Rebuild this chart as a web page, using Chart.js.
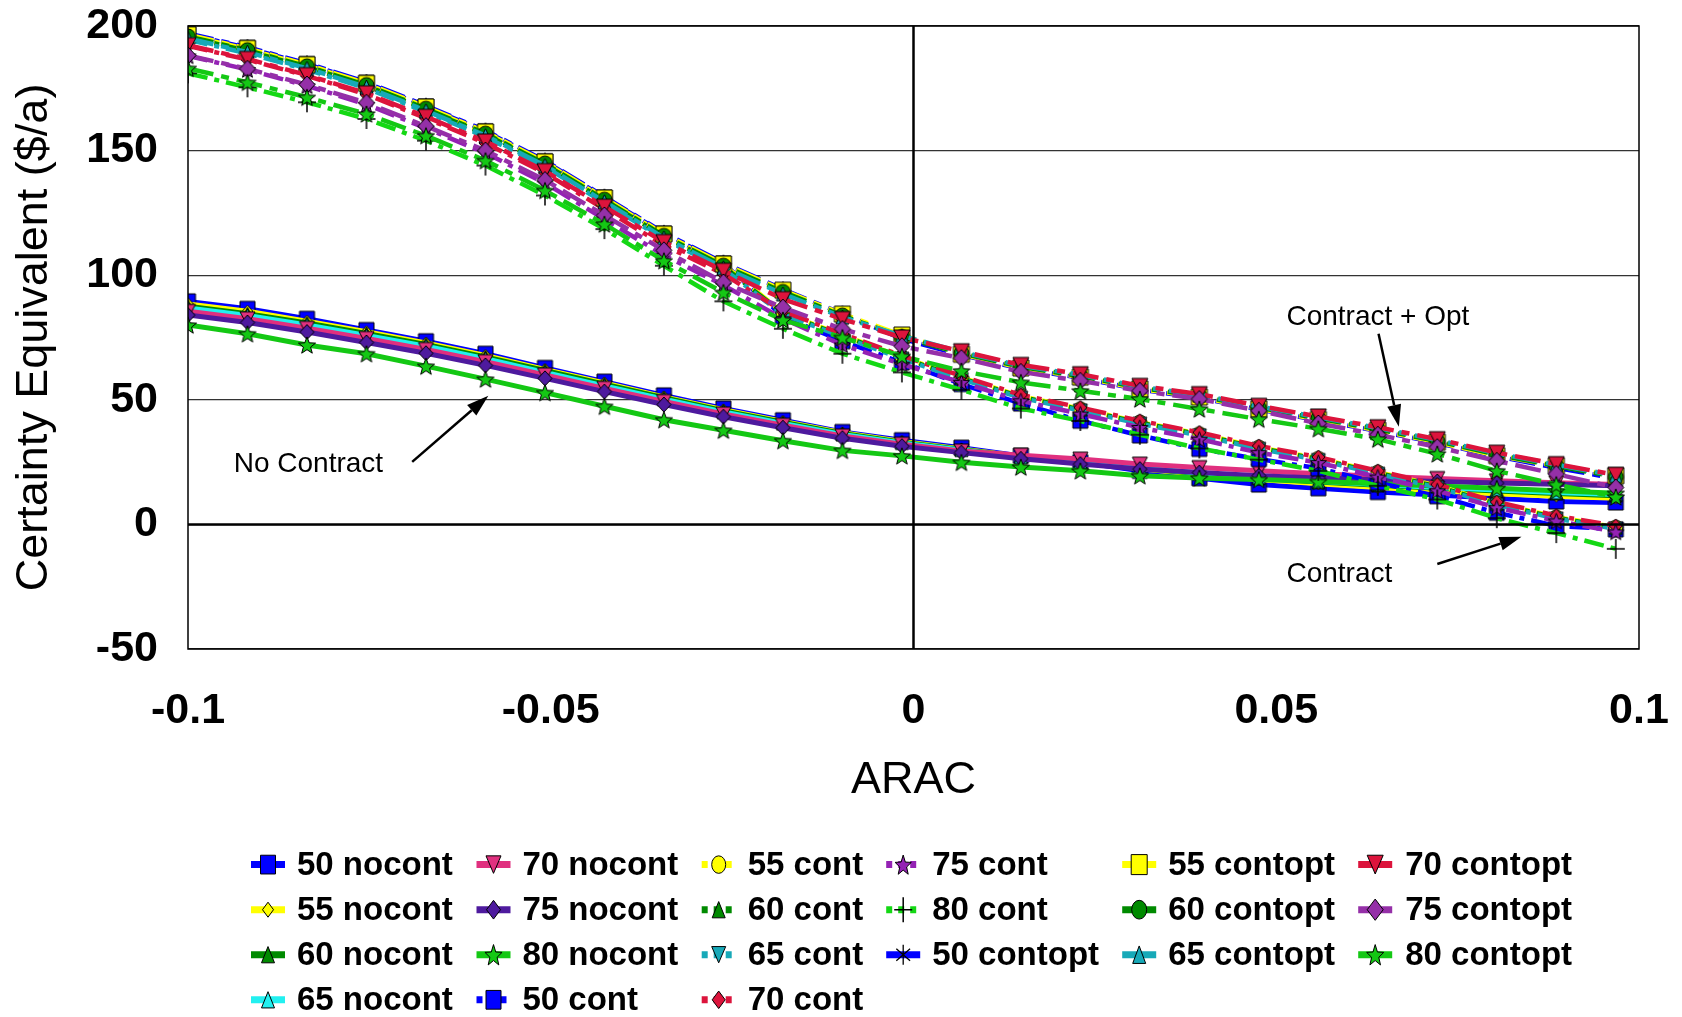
<!DOCTYPE html>
<html>
<head>
<meta charset="utf-8">
<script src="https://cdn.jsdelivr.net/npm/chart.js@4.4.1/dist/chart.umd.min.js"></script>
<style>
html,body{margin:0;padding:0;background:#ffffff;}
#wrap{width:1682px;height:1017px;position:relative;}
</style>
</head>
<body>
<div id="wrap"><canvas id="c" width="1682" height="1017"></canvas></div>
<script>
// ---------------- DATA ----------------
const arac = [-0.1, -0.0918, -0.0836, -0.0754, -0.0672, -0.059, -0.0508, -0.0426, -0.0344, -0.0262, -0.018, -0.0098, -0.0016, 0.0066, 0.0148, 0.023, 0.0312, 0.0394, 0.0476, 0.0558, 0.064, 0.0722, 0.0804, 0.0886, 0.0968];

const nocont50 = [89.5, 86.5, 82.5, 78, 73.5, 68.5, 62.8, 57.3, 51.8, 46.5, 41.8, 37.1, 33.8, 30.8, 27.5, 25, 21.5, 18.5, 16, 14.5, 13, 11.8, 10.5, 9.2, 8.8];
const nocont55 = [88.5, 85.5, 81.5, 77.3, 72.8, 67.8, 62.2, 56.8, 51.2, 46, 41.3, 36.8, 33.3, 30.3, 27.3, 25, 22.3, 20, 18, 16.3, 14.8, 13.5, 12.3, 11.3, 10.5];
const nocont60 = [87.5, 84.5, 80.8, 76.6, 72.2, 67.2, 61.8, 56.3, 50.8, 45.6, 41, 36.5, 33, 30.1, 27.2, 25, 22.5, 20.3, 18.5, 17, 15.7, 14.5, 13.4, 12.4, 11.5];
const nocont65 = [86.8, 83.8, 80, 75.8, 71.5, 66.5, 61, 55.6, 50.2, 45.1, 40.5, 36.1, 32.7, 29.9, 27, 25, 22.6, 20.6, 18.8, 17.3, 16, 14.8, 13.8, 12.8, 12];
const nocont70 = [85.5, 82.5, 78.7, 74.6, 70.2, 65.3, 60, 54.6, 49.3, 44.3, 39.8, 35.5, 32.2, 29.5, 27.8, 26.2, 24.2, 22.8, 21.5, 20.3, 19.3, 18.4, 17.5, 16.7, 16];
const nocont75 = [84, 81, 77.2, 73, 68.7, 63.8, 58.6, 53.3, 48.1, 43.2, 38.8, 34.6, 31.4, 28.8, 26.3, 24.2, 22.2, 20.8, 19.5, 18.6, 17.9, 17.2, 16.6, 16.1, 15.5];
const nocont80 = [80, 76.5, 72, 68.5, 63.5, 58.3, 52.9, 47.4, 42, 37.8, 33.6, 29.7, 27.5, 24.9, 23, 21.5, 19.5, 18.6, 18, 17.2, 16.3, 15.4, 14.5, 13.5, 12.5];

const cont50 = [196.7, 191.2, 184.7, 177.2, 167.7, 157.7, 145.7, 131.2, 116.7, 104.7, 83.5, 73.5, 65, 56.3, 48.5, 41.6, 35.7, 30.3, 26.2, 22.5, 16.8, 11.3, 4.7, -0.6, -2];
const cont55 = [196.2, 190.7, 184.2, 176.7, 167.2, 157.2, 145.2, 130.7, 116.2, 104.2, 85, 76, 67.2, 59, 51.5, 46.4, 41.1, 36.4, 31, 26.5, 21, 15.5, 8.5, 3, -1.1];
const cont60 = [195.5, 190, 183.5, 176, 166.5, 156.5, 144.5, 130, 115.5, 103.5, 84.7, 75.7, 66.9, 58.7, 51.2, 46.1, 40.8, 36.1, 30.7, 26.2, 20.7, 15.2, 8.2, 2.7, -1.4];
const cont65 = [194.5, 189, 182.5, 175, 165.5, 155.5, 143.5, 129, 114.5, 102.5, 84.3, 75.3, 66.5, 58.3, 50.8, 45.7, 40.4, 35.7, 30.3, 25.8, 20.3, 14.8, 7.8, 2.3, -1.8];
const cont70 = [192, 186.5, 180, 172.5, 163, 153, 141, 126.5, 112, 100.5, 85.5, 76.5, 67.7, 59.5, 52, 46.9, 41.6, 36.9, 31.5, 27, 21.5, 16, 9, 3.5, -0.6];
const cont75 = [188, 182.5, 176, 168.5, 159, 149, 137, 122.5, 108, 96, 82.5, 72, 64.3, 57, 49.6, 44.3, 38.9, 34.2, 28.8, 24.8, 19, 13.5, 6.7, 1.4, -3];
const cont80 = [181, 175.4, 169.4, 162.7, 154, 144, 132, 118.5, 103.8, 89.5, 78.5, 68.5, 61, 54, 46.5, 41.5, 36, 30.5, 26, 21.5, 15.5, 10, 2.5, -3.5, -9.8];

const contopt50 = [197, 191.5, 185, 177.5, 168, 158, 146, 131.5, 117, 105, 94.3, 84.6, 74.5, 68, 62.5, 58.8, 54.1, 50.8, 46.1, 41.8, 37.5, 32.7, 27.3, 22.7, 18.4];
const contopt55 = [196.5, 191, 184.5, 177, 167.5, 157.5, 145.5, 131, 116.5, 104.5, 94, 84.4, 76, 68.3, 62.8, 59.1, 54.4, 51.1, 46.4, 42.1, 37.8, 33, 27.6, 23.5, 19.5];
const contopt60 = [195.8, 190.3, 183.8, 176.3, 166.8, 156.8, 144.8, 130.3, 115.8, 103.8, 93.3, 83.8, 75.2, 68.7, 63.2, 59.5, 54.8, 51.5, 46.8, 42.5, 38.2, 33.4, 28, 23.4, 19.1];
const contopt65 = [195, 189.5, 183, 175.5, 166, 156, 144, 129.5, 115, 103, 92.5, 83.2, 75.7, 69.2, 63.7, 60, 55.3, 52, 47.3, 43, 38.7, 33.9, 28.5, 23.9, 19.6];
const contopt70 = [192.3, 186.8, 180.3, 173, 163.6, 153.7, 141.8, 127.5, 113.3, 101.8, 90.4, 82.4, 75, 69.5, 64, 60.3, 55.6, 52.3, 47.6, 43.3, 39, 34.2, 28.8, 24.2, 19.9];
const contopt75 = [188.2, 182.8, 176.5, 169.2, 159.8, 150, 138.2, 124, 110, 97.1, 87, 78.4, 71.5, 66.7, 61.2, 57.6, 53.6, 50.3, 45.6, 40.5, 36, 31, 25.5, 20.2, 14.8];
const contopt80 = [183, 177.4, 171.4, 164.7, 156, 146, 134, 120.5, 105.8, 93.1, 82, 75, 67.5, 61.6, 57, 53.6, 50.3, 46.3, 42.2, 38.4, 34.2, 28.3, 21.5, 16, 11];

const seriesLabels = ['50 nocont','55 nocont','60 nocont','65 nocont','70 nocont','75 nocont','80 nocont',
  '50 cont','55 cont','60 cont','65 cont','70 cont','75 cont','80 cont',
  '50 contopt','55 contopt','60 contopt','65 contopt','70 contopt','75 contopt','80 contopt'];
const seriesValues = [nocont50, nocont55, nocont60, nocont65, nocont70, nocont75, nocont80,
  cont50, cont55, cont60, cont65, cont70, cont75, cont80,
  contopt50, contopt55, contopt60, contopt65, contopt70, contopt75, contopt80];

const xTickValues = [-0.1, -0.05, 0, 0.05, 0.1];
const xTickLabels = ['-0.1', '-0.05', '0', '0.05', '0.1'];
const yTickValues = [-50, 0, 50, 100, 150, 200];
const yTickLabels = ['-50', '0', '50', '100', '150', '200'];

const xTitle = 'ARAC';
const yTitle = 'Certainty Equivalent ($/a)';
const noteTexts = ['No Contract', 'Contract + Opt', 'Contract'];

// ---------------- STYLES ----------------
const FONT = "'Liberation Sans', Arial, Helvetica, sans-serif";
// [lineColor, markerShape, markerFill, markerW, markerH, lineKind]
const styles = [
  ['#0000FF','square','#0000FF',15,15,'solid'],
  ['#FFFF00','diamond','#FFFF00',11,12,'solid'],
  ['#008A00','triUp','#008A00',13,13,'solid'],
  ['#22F0F0','triUp','#22F0F0',13,13,'solid'],
  ['#E0307F','triDown','#E0307F',15,14,'solid'],
  ['#4E1A9E','diamond','#4E1A9E',14,15,'solid'],
  ['#14C814','star','#14C814',18,18,'solid'],
  ['#0000FF','square','#0000FF',15,15,'cont'],
  ['#FFFF00','circle','#FFFF00',14,14,'cont'],
  ['#008A00','triUp','#008A00',13,13,'cont'],
  ['#17A9B8','triDown','#17A9B8',14,13,'cont'],
  ['#DC143C','diamond','#DC143C',13,14,'cont'],
  ['#9422B4','star','#9422B4',17,17,'cont'],
  ['#14D814','plus','#000000',18,20,'cont'],
  ['#0000FF','asterisk','#000000',16,16,'opt'],
  ['#FFFF00','square','#FFFF00',16,16,'opt'],
  ['#008A00','circle','#008A00',15,15,'opt'],
  ['#17A9B8','triUp','#17A9B8',13,14,'opt'],
  ['#DC143C','triDown','#DC143C',16,15,'opt'],
  ['#9530A8','diamond','#9530A8',16,17,'opt'],
  ['#14C814','star','#14C814',18,18,'opt']
];
const dashes = {solid: [], cont: [20,7,5,7], opt: [26,8,8,8]};
const widths = {solid: 5, cont: 4.5, opt: 4.5};

function drawShape(ctx, shape, cx, cy, w, h, fill) {
  ctx.save();
  ctx.lineWidth = 1;
  ctx.strokeStyle = '#000';
  ctx.fillStyle = fill;
  ctx.setLineDash([]);
  ctx.beginPath();
  let filled = true;
  switch (shape) {
    case 'square': ctx.rect(cx - w/2, cy - h/2, w, h); break;
    case 'circle': ctx.ellipse(cx, cy, w/2, h/2, 0, 0, Math.PI * 2); break;
    case 'diamond':
      ctx.moveTo(cx, cy - h/2); ctx.lineTo(cx + w/2, cy); ctx.lineTo(cx, cy + h/2); ctx.lineTo(cx - w/2, cy); ctx.closePath(); break;
    case 'triUp':
      ctx.moveTo(cx, cy - h/2); ctx.lineTo(cx + w/2, cy + h/2); ctx.lineTo(cx - w/2, cy + h/2); ctx.closePath(); break;
    case 'triDown':
      ctx.moveTo(cx - w/2, cy - h/2); ctx.lineTo(cx + w/2, cy - h/2); ctx.lineTo(cx, cy + h/2); ctx.closePath(); break;
    case 'star':
      for (let k = 0; k < 10; k++) {
        const r = (k % 2) ? 0.42 : 1;
        const a = -Math.PI/2 + k * Math.PI / 5;
        const px = cx + Math.cos(a) * r * w/2, py = cy + Math.sin(a) * r * h/2 + h*0.05;
        if (k === 0) ctx.moveTo(px, py); else ctx.lineTo(px, py);
      }
      ctx.closePath(); break;
    case 'plus':
      filled = false; ctx.lineWidth = 1.5; ctx.strokeStyle = fill;
      ctx.moveTo(cx, cy - h/2); ctx.lineTo(cx, cy + h/2);
      ctx.moveTo(cx - w/2, cy); ctx.lineTo(cx + w/2, cy); break;
    case 'asterisk':
      filled = false; ctx.lineWidth = 1.3; ctx.strokeStyle = fill;
      ctx.moveTo(cx, cy - h/2); ctx.lineTo(cx, cy + h/2);
      ctx.moveTo(cx - w*0.43, cy - h*0.3); ctx.lineTo(cx + w*0.43, cy + h*0.3);
      ctx.moveTo(cx + w*0.43, cy - h*0.3); ctx.lineTo(cx - w*0.43, cy + h*0.3); break;
  }
  if (filled) ctx.fill();
  ctx.stroke();
  ctx.restore();
}
function makeMarker(shape, fill, w, h) {
  const c = document.createElement('canvas');
  c.width = Math.ceil(w + 4); c.height = Math.ceil(h + 4);
  drawShape(c.getContext('2d'), shape, c.width / 2, c.height / 2, w, h, fill);
  return c;
}

const datasets = seriesLabels.map((lab, i) => {
  const s = styles[i];
  return {
    label: lab,
    data: arac.map((x, j) => ({x: x, y: seriesValues[i][j]})),
    borderColor: s[0],
    backgroundColor: s[2],
    borderWidth: widths[s[5]],
    borderDash: dashes[s[5]],
    borderCapStyle: 'butt',
    tension: 0,
    pointStyle: makeMarker(s[1], s[2], s[3], s[4]),
    pointRadius: 7,
    pointHoverRadius: 7,
    order: seriesLabels.length - i
  };
});

// annotation placement (data coordinates)
const notes = [
  {text: noteTexts[0], at: [-0.0937, 24.3], from: [-0.0691, 25.1], to: [-0.0586, 51.6]},
  {text: noteTexts[1], at: [0.0514, 83.1], from: [0.0641, 76.5], to: [0.0669, 39.2]},
  {text: noteTexts[2], at: [0.0514, -19.9], from: [0.0722, -15.9], to: [0.0838, -5.0]}
];

const legendCols = [[0,1,2,3],[4,5,6,7],[8,9,10,11],[12,13,14],[15,16,17],[18,19,20]];
const legendMarkerX = [268, 493.5, 718.7, 903.2, 1139.2, 1375.2];
const legendTextX = [297, 522.4, 747.7, 932.2, 1168.2, 1405.2];
const legendRowY = [864.6, 909.7, 954.7, 999.8];

function arrow(ctx, x1, y1, x2, y2) {
  const ang = Math.atan2(y2 - y1, x2 - x1);
  const hl = 22, hw = 7;
  const bx = x2 - Math.cos(ang) * hl, by = y2 - Math.sin(ang) * hl;
  ctx.save();
  ctx.strokeStyle = '#000'; ctx.fillStyle = '#000'; ctx.lineWidth = 2.5;
  ctx.beginPath(); ctx.moveTo(x1, y1); ctx.lineTo(bx, by); ctx.stroke();
  ctx.beginPath();
  ctx.moveTo(x2, y2);
  ctx.lineTo(bx + Math.sin(ang) * hw, by - Math.cos(ang) * hw);
  ctx.lineTo(bx - Math.sin(ang) * hw, by + Math.cos(ang) * hw);
  ctx.closePath(); ctx.fill();
  ctx.restore();
}

const decor = {
  id: 'decor',
  afterDatasetsDraw(chart) {
    const ctx = chart.ctx, a = chart.chartArea;
    const xs = chart.scales.x, ys = chart.scales.y;
    ctx.save();
    ctx.strokeStyle = '#000'; ctx.lineWidth = 2.5;
    const x0 = xs.getPixelForValue(0), y0 = ys.getPixelForValue(0);
    ctx.beginPath(); ctx.moveTo(x0, a.top); ctx.lineTo(x0, a.bottom); ctx.stroke();
    ctx.beginPath(); ctx.moveTo(a.left, y0); ctx.lineTo(a.right, y0); ctx.stroke();
    ctx.lineWidth = 1.5;
    ctx.strokeRect(a.left, a.top, a.right - a.left, a.bottom - a.top);
    ctx.fillStyle = '#000';
    ctx.font = '28px ' + FONT;
    ctx.textBaseline = 'middle'; ctx.textAlign = 'left';
    notes.forEach(n => {
      ctx.fillText(n.text, xs.getPixelForValue(n.at[0]), ys.getPixelForValue(n.at[1]));
      arrow(ctx, xs.getPixelForValue(n.from[0]), ys.getPixelForValue(n.from[1]),
                 xs.getPixelForValue(n.to[0]), ys.getPixelForValue(n.to[1]));
    });
    ctx.restore();
  },
  afterDraw(chart) {
    const ctx = chart.ctx;
    ctx.save();
    ctx.font = 'bold 33px ' + FONT;
    ctx.textBaseline = 'middle'; ctx.textAlign = 'left'; ctx.fillStyle = '#000';
    legendCols.forEach((col, ci) => {
      col.forEach((si, ri) => {
        const s = styles[si];
        const mx = legendMarkerX[ci], my = legendRowY[ri];
        ctx.save();
        ctx.strokeStyle = s[0];
        ctx.lineWidth = 7;
        ctx.lineCap = 'butt';
        if (s[5] === 'cont') ctx.setLineDash([6, 6]); else ctx.setLineDash([]);
        ctx.beginPath(); ctx.moveTo(mx - 17, my); ctx.lineTo(mx + 17, my); ctx.stroke();
        ctx.restore();
        drawShape(ctx, s[1], mx, my, s[3], s[4] * 1.25, s[2]);
        ctx.fillText(seriesLabels[si], legendTextX[ci], my + 1);
      });
    });
    ctx.restore();
  }
};

Chart.defaults.font.family = FONT;
Chart.defaults.color = '#000';

new Chart(document.getElementById('c'), {
  type: 'line',
  data: {datasets: datasets},
  options: {
    responsive: false,
    animation: false,
    devicePixelRatio: 1,
    layout: {padding: {left: 0, right: 43, top: 26, bottom: 198}},
    plugins: {legend: {display: false}, tooltip: {enabled: false}},
    scales: {
      x: {
        type: 'linear', min: -0.1, max: 0.1,
        afterBuildTicks: s => { s.ticks = xTickValues.map(v => ({value: v})); },
        afterFit: s => { s.height = 170; },
        ticks: {
          font: {size: 43, weight: 'bold'}, color: '#000', padding: 0, maxRotation: 0, autoSkip: false,
          callback: v => { const k = xTickValues.findIndex(t => Math.abs(t - v) < 1e-9); return k >= 0 ? xTickLabels[k] : ''; }
        },
        grid: {display: true, color: 'rgba(0,0,0,0)', drawTicks: true, tickLength: 36, tickColor: 'rgba(0,0,0,0)'},
        border: {display: false},
        title: {display: true, text: xTitle, font: {size: 45}, color: '#000', padding: {top: 0, bottom: 11}}
      },
      y: {
        type: 'linear', min: -50, max: 200,
        afterBuildTicks: s => { s.ticks = yTickValues.map(v => ({value: v})); },
        afterFit: s => { s.width = 188; },
        ticks: {
          font: {size: 43, weight: 'bold'}, color: '#000', padding: 0, autoSkip: false,
          callback: v => { const k = yTickValues.indexOf(v); return k >= 0 ? yTickLabels[k] : ''; }
        },
        grid: {color: '#333', lineWidth: 1.3, drawTicks: true, tickLength: 30, tickColor: 'rgba(0,0,0,0)'},
        border: {display: false},
        title: {display: true, text: yTitle, font: {size: 45}, color: '#000', padding: {top: 8, bottom: 0}}
      }
    }
  },
  plugins: [decor]
});
</script>
</body>
</html>
